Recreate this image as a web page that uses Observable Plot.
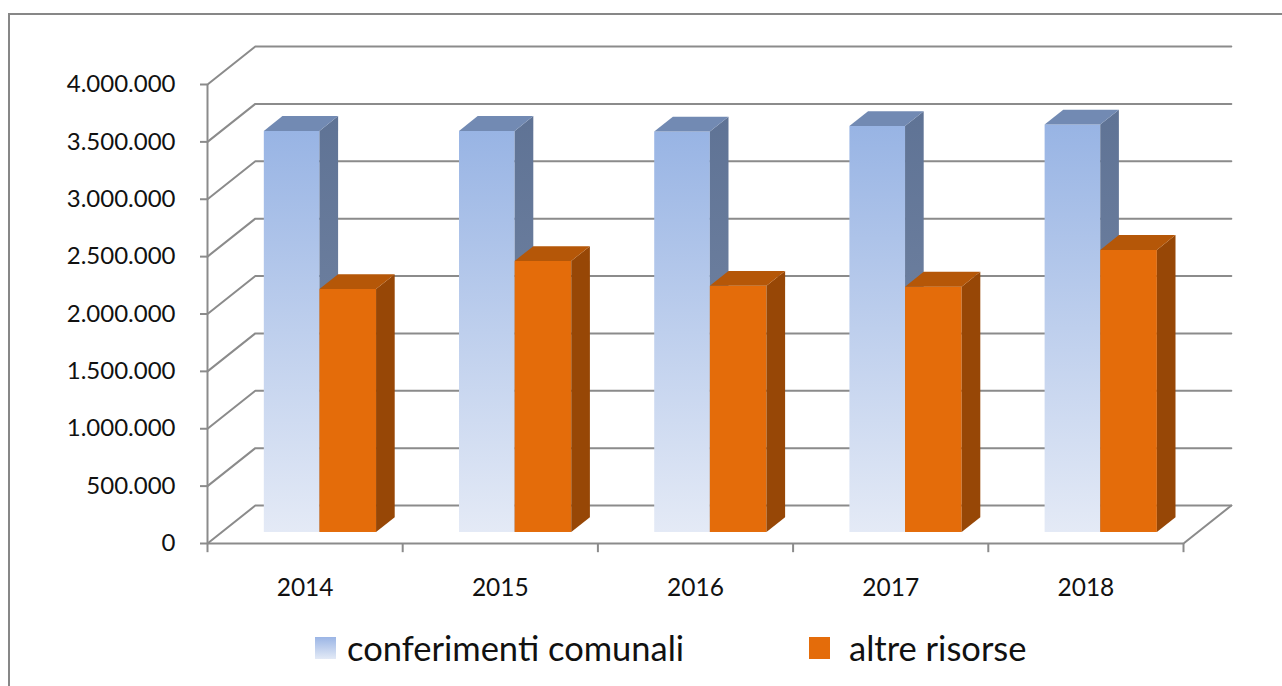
<!DOCTYPE html>
<html>
<head>
<meta charset="utf-8">
<script src="https://cdn.jsdelivr.net/npm/d3@7"></script>
<script src="https://cdn.jsdelivr.net/npm/@observablehq/plot@0.6"></script>
<style>
  html, body { margin: 0; padding: 0; background: #fff; overflow: hidden; }
  body { width: 1282px; height: 686px; position: relative; font-family: Lato, "Open Sans", sans-serif; }
  #frame { position: absolute; left: 8px; top: 13px; width: 1300px; height: 700px; border: 2px solid #878787; box-sizing: border-box; }
  #chart { position: absolute; left: 0; top: 0; }
  #legend { position: absolute; left: 0; top: 600px; width: 1282px; height: 86px; }
  .item { position: absolute; top: 27px; display: flex; align-items: center; font-size: 34.5px; color: #111; }
  .sw { width: 21px; height: 22px; }
</style>
</head>
<body>
<div id="frame"></div>
<div id="chart"></div>
<div id="legend"></div>
<script>
// ---- data ----
const years = ["2014", "2015", "2016", "2017", "2018"];
const conferimentiComunali = [3495000, 3495000, 3490000, 3538000, 3551000];
const altreRisorse = [2118000, 2362000, 2146000, 2138000, 2458000];
const yTicks = [0, 500000, 1000000, 1500000, 2000000, 2500000, 3000000, 3500000, 4000000];
const yTickLabels = ["0", "500.000", "1.000.000", "1.500.000", "2.000.000", "2.500.000", "3.000.000", "3.500.000", "4.000.000"];
const seriesNames = ["conferimenti comunali", "altre risorse"];

// ---- oblique 3D projection (in data units) ----
const DX = 0.245;      // full depth, horizontal (category units)
const DY = 331000;     // full depth, vertical (value units)
const z0 = 0.29, z1 = 0.68; // bar depth band
const barPos = [[0.22, 0.505], [0.505, 0.795]];

function bars(values, s) {
  return values.map((v, i) => ({i, v, xl: i + barPos[s][0], xr: i + barPos[s][1]}));
}
function fronts(bs) {
  return bs.map(b => ({x1: b.xl + z0 * DX, x2: b.xr + z0 * DX, y1: z0 * DY, y2: b.v + z0 * DY}));
}
function sides(bs) {
  return bs.flatMap(b => [
    {id: b.i, x: b.xr + z0 * DX, y1: z0 * DY, y2: b.v + z0 * DY},
    {id: b.i, x: b.xr + z1 * DX, y1: z1 * DY, y2: b.v + z1 * DY}
  ]);
}
function tops(bs) {
  return bs.flatMap(b => [
    {id: b.i, y: b.v + z0 * DY, x1: b.xl + z0 * DX, x2: b.xr + z0 * DX},
    {id: b.i, y: b.v + z1 * DY, x1: b.xl + z1 * DX, x2: b.xr + z1 * DX}
  ]);
}

const blue = bars(conferimentiComunali, 0);
const orange = bars(altreRisorse, 1);

const grid = yTicks.flatMap(t => [
  {t, x: 0, y: t},
  {t, x: DX, y: t + DY},
  {t, x: years.length + DX, y: t + DY}
]);
const floorEdge = [{x: years.length, y: 0}, {x: years.length + DX, y: DY}];

function gradients() {
  const defs = d3.create("svg:defs");
  const add = (id, c1, c2) => {
    const g = defs.append("linearGradient").attr("id", id).attr("x1", 0).attr("y1", 0).attr("x2", 0).attr("y2", 1);
    g.append("stop").attr("offset", "0%").attr("stop-color", c1);
    g.append("stop").attr("offset", "100%").attr("stop-color", c2);
  };
  add("blueFront", "#98B4E4", "#E4EAF6");
  add("blueSide", "#5F7395", "#7A8BA8");
  return defs.node();
}

const gridColor = "#8b8b8b";
const chart = Plot.plot({
  width: 1282,
  height: 600,
  margin: 0,
  x: {domain: [0, years.length], range: [207, 1183], axis: null},
  y: {domain: [0, 4000000], range: [543, 84], axis: null},
  style: {fontFamily: "Lato, 'Open Sans', sans-serif", background: "transparent"},
  marks: [
    gradients,
    Plot.line(grid, {x: "x", y: "y", z: "t", stroke: gridColor, strokeWidth: 2}),
    Plot.line(floorEdge, {x: "x", y: "y", stroke: gridColor, strokeWidth: 2}),
    Plot.ruleX([0], {x: d => d, y1: 0, y2: 4000000, stroke: gridColor, strokeWidth: 2}),
    Plot.ruleY([0], {y: d => d, x1: 0, x2: years.length, stroke: gridColor, strokeWidth: 2}),
    Plot.ruleY(yTicks, {y: d => d, x1: -0.036, x2: 0, stroke: gridColor, strokeWidth: 2}),
    Plot.ruleX(d3.range(years.length + 1), {x: d => d, y1: 0, y2: -80000, stroke: gridColor, strokeWidth: 2}),
    Plot.text(yTicks, {x: 0, y: d => d, text: (d, i) => yTickLabels[i], dx: -32, textAnchor: "end", fontSize: 24, fill: "#111"}),
    Plot.text(years, {x: (d, i) => i + 0.5, y: 0, text: d => d, dy: 45, fontSize: 24.5, fill: "#111"}),
    // blue series
    Plot.rect(fronts(blue), {x1: "x1", x2: "x2", y1: "y1", y2: "y2", fill: "url(#blueFront)"}),
    Plot.areaY(sides(blue), {x: "x", y1: "y1", y2: "y2", z: "id", fill: "url(#blueSide)"}),
    Plot.areaX(tops(blue), {y: "y", x1: "x1", x2: "x2", z: "id", fill: "#728AB3"}),
    // orange series
    Plot.rect(fronts(orange), {x1: "x1", x2: "x2", y1: "y1", y2: "y2", fill: "#E46C0A"}),
    Plot.areaY(sides(orange), {x: "x", y1: "y1", y2: "y2", z: "id", fill: "#974706"}),
    Plot.areaX(tops(orange), {y: "y", x1: "x1", x2: "x2", z: "id", fill: "#B55708"})
  ]
});
document.getElementById("chart").appendChild(chart);

// ---- legend ----
const legend = document.getElementById("legend");
const swatches = ["linear-gradient(#9BB5E5, #E3EAF6)", "#E46C0A"];
const lefts = [315, 809];
const gaps = [11, 19];
seriesNames.forEach((name, k) => {
  const item = document.createElement("div");
  item.className = "item";
  item.style.left = lefts[k] + "px";
  const sw = document.createElement("div");
  sw.className = "sw";
  sw.style.background = swatches[k];
  sw.style.marginRight = gaps[k] + "px";
  const t = document.createElement("span");
  t.textContent = name;
  item.appendChild(sw);
  item.appendChild(t);
  legend.appendChild(item);
});
</script>
</body>
</html>
